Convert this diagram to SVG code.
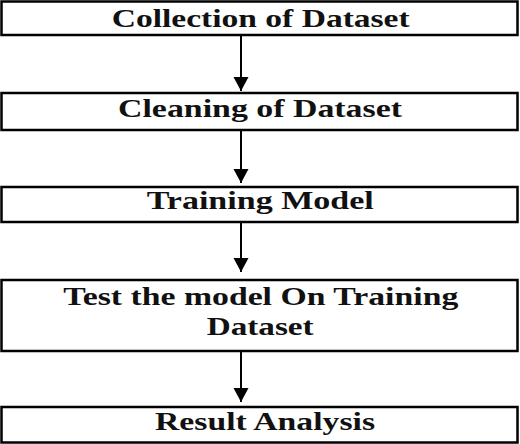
<svg xmlns="http://www.w3.org/2000/svg" width="520" height="444" viewBox="0 0 520 444">
<style>
.box{fill:#fff;stroke:#000;stroke-width:2.5}
.t{font-family:"Liberation Serif","Times New Roman",serif;font-weight:bold;font-size:26px;fill:#111}
.c{stroke:#000;stroke-width:2;fill:none}
</style>
<defs>
<marker id="ah" markerUnits="userSpaceOnUse" markerWidth="16" markerHeight="16" refX="14" refY="7.5" orient="auto">
<path d="M0,0 L14,7.5 L0,15 Z" fill="#000"/>
</marker>
</defs>
<rect width="520" height="444" fill="#fff"/>
<g id="connectors">
<line class="c" x1="241" y1="35" x2="241" y2="91" marker-end="url(#ah)"/>
<line class="c" x1="241" y1="130" x2="241" y2="183" marker-end="url(#ah)"/>
<line class="c" x1="241" y1="219" x2="241" y2="272" marker-end="url(#ah)"/>
<line class="c" x1="241" y1="351" x2="241" y2="402" marker-end="url(#ah)"/>
</g>
<g id="n1">
<rect class="box" x="1.5" y="1.5" width="516" height="33.5"/>
<text class="t" x="111.7" y="26.5" textLength="298" lengthAdjust="spacingAndGlyphs">Collection of Dataset</text>
</g>
<g id="n2">
<rect class="box" x="1.5" y="93" width="516" height="37"/>
<text class="t" x="118" y="116.5" textLength="284" lengthAdjust="spacingAndGlyphs">Cleaning of Dataset</text>
</g>
<g id="n3">
<rect class="box" x="1.5" y="187" width="516" height="35"/>
<text class="t" x="146.7" y="209" textLength="227" lengthAdjust="spacingAndGlyphs">Training Model</text>
</g>
<g id="n4">
<rect class="box" x="1.5" y="280" width="516" height="71"/>
<text class="t" x="63.3" y="305" textLength="395" lengthAdjust="spacingAndGlyphs">Test the model On Training</text>
<text class="t" x="206.7" y="335" textLength="107" lengthAdjust="spacingAndGlyphs">Dataset</text>
</g>
<g id="n5">
<rect class="box" x="1.5" y="407" width="516" height="35.5"/>
<text class="t" x="155" y="430" textLength="220" lengthAdjust="spacingAndGlyphs">Result Analysis</text>
</g>
</svg>
